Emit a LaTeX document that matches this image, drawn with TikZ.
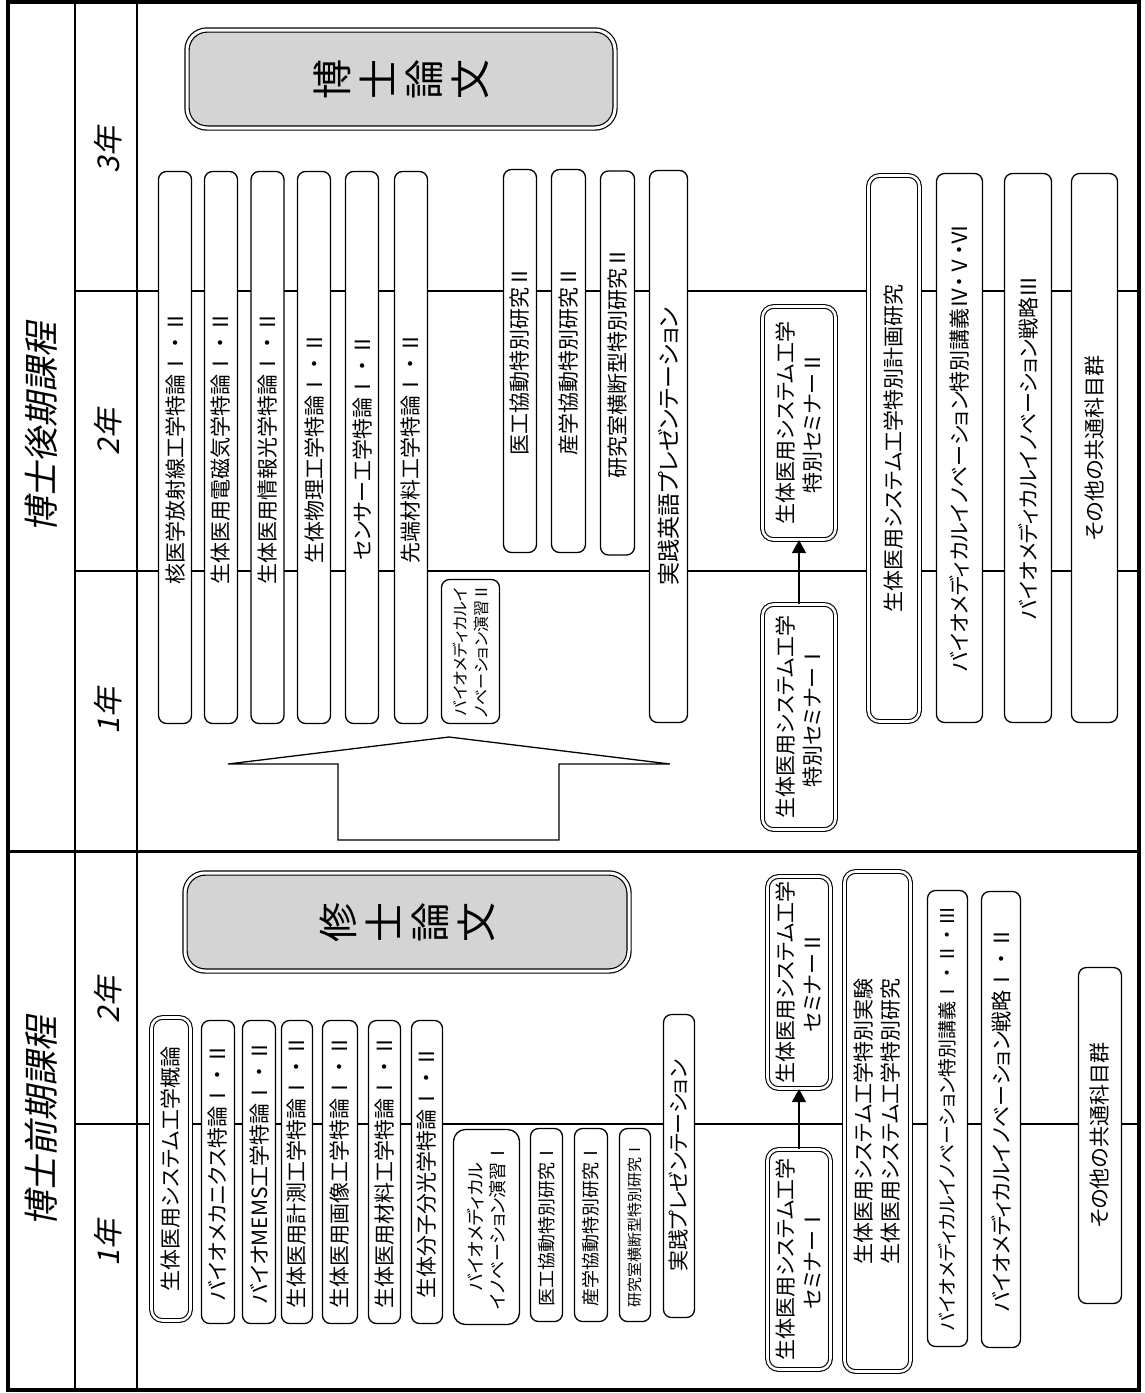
\documentclass[tikz,border=0pt]{standalone}
\usepackage{fontspec}
\setmainfont{Noto Sans CJK JP}[RawFeature=+palt]
\newfontfamily\slantjp{Noto Sans CJK JP}[FakeSlant=0.2]
\newfontfamily\fullwidth{Noto Sans CJK JP}
\newcommand\numw[1]{{\fullwidth #1}}
\usetikzlibrary{arrows.meta}
\definecolor{thesisgray}{RGB}{212,212,212}
\tikzset{
  gridline/.style={line width=1.3pt},
  course/.style={draw, line width=1.3pt, fill=white, rounded corners=8pt,
    rotate=90, inner sep=0pt, align=center,
    font=\fontsize{21}{27}\selectfont},
  core/.style={course, double, line width=1.1pt, double distance=2.6pt,
    rounded corners=11pt},
  thesis/.style={draw, double, line width=1.2pt, double distance=3pt,
    fill=thesisgray, rounded corners=20pt, rotate=90, inner sep=0pt,
    align=center, font=\fontsize{40}{46}\selectfont},
  yearlabel/.style={rotate=90, font=\slantjp\fontsize{30}{30}\selectfont},
  courselabel/.style={rotate=90, font=\slantjp\fontsize{35}{35}\selectfont},
  toplong/.style={minimum width=552pt, minimum height=33pt},
  botlong/.style={minimum width=303pt, minimum height=33pt},
  seminar/.style={-{Triangle[length=13pt,width=14pt]}, line width=1.3pt},
}
\begin{document}
\begin{tikzpicture}[x=1pt,y=-1pt]
\useasboundingbox (0,0) rectangle (1144,1393);
% rows and columns
\draw[gridline] (75,2) -- (75,1390);
\draw[gridline] (137,2) -- (137,1390);
\draw[gridline] (75,291) -- (1139,291);
\draw[gridline] (75,571) -- (1139,571);
\draw[gridline] (75,1124) -- (1139,1124);
\node[courselabel] (doctor) at (41,427) {博士後期課程};
\node[courselabel] (master) at (41,1121) {博士前期課程};
\node[yearlabel] (dthree) at (108,150) {3年};
\node[yearlabel] (dtwo) at (108,432) {2年};
\node[yearlabel] (done) at (108,711) {1年};
\node[yearlabel] (mtwo) at (108,1000) {2年};
\node[yearlabel] (mone) at (108,1243) {1年};
% doctoral course
\node[thesis, minimum width=98pt, minimum height=428pt] (hakuron) at (401,79) {博\\士\\論\\文};
\node[course, toplong] (kaku) at (175,447.5) {核医学放射線工学特論\numw{Ⅰ・Ⅱ}};
\node[course, toplong] (denji) at (221,447.5) {生体医用電磁気学特論\numw{Ⅰ・Ⅱ}};
\node[course, toplong] (joho) at (267.5,447.5) {生体医用情報光学特論\numw{Ⅰ・Ⅱ}};
\node[course, toplong] (butsuri) at (314,447.5) {生体物理工学特論\numw{Ⅰ・Ⅱ}};
\node[course, toplong] (sensor) at (362,447.5) {センサー工学特論\numw{Ⅰ・Ⅱ}};
\node[course, toplong] (sentan) at (411,447.5) {先端材料工学特論\numw{Ⅰ・Ⅱ}};
\node[course, minimum width=144pt, minimum height=58pt,
  font=\fontsize{16}{21}\selectfont] (ensyuB) at (470.5,651.5) {バイオメディカルイ\\ノベーション演習\numw{Ⅱ}};
\node[course, minimum width=383pt, minimum height=33pt] (ikoB) at (520,361) {医工協動特別研究\numw{Ⅱ}};
\node[course, minimum width=383pt, minimum height=34pt] (sangakuB) at (568.5,361) {産学協動特別研究\numw{Ⅱ}};
\node[course, minimum width=384pt, minimum height=34pt] (kenkyuB) at (617.5,363) {研究室横断型特別研究\numw{Ⅱ}};
\node[course, minimum width=552pt, minimum height=38pt,
  font=\fontsize{23}{27}\selectfont] (eigo) at (668.5,446.5) {実践英語プレゼンテーション};
\node[core, minimum width=233pt, minimum height=73pt] (semBtwo) at (799,423) {生体医用システム工学\\特別セミナー\numw{Ⅱ}};
\node[core, minimum width=225pt, minimum height=73pt] (semBone) at (799,717) {生体医用システム工学\\特別セミナー\numw{Ⅰ}};
\node[core, minimum width=546pt, minimum height=51pt] (keikaku) at (894,448.5) {生体医用システム工学特別計画研究};
\node[course, minimum width=549pt, minimum height=46pt] (kogiB) at (959.5,448) {バイオメディカルイノベーション特別講義Ⅳ・Ⅴ・Ⅵ};
\node[course, minimum width=549pt, minimum height=47pt] (senryakuB) at (1028,448) {バイオメディカルイノベーション戦略\numw{Ⅲ}};
\node[course, minimum width=549pt, minimum height=46pt] (sonotaB) at (1094.5,448) {その他の共通科目群};
\draw[seminar] (semBone) -- (semBtwo);
% master course
\node[thesis, minimum width=98pt, minimum height=444pt] (shuron) at (407,922) {修\\士\\論\\文};
\node[core, minimum width=303pt, minimum height=39pt] (gairon) at (171,1169) {生体医用システム工学概論};
\node[course, botlong] (mech) at (218,1172) {バイオメカニクス特論\numw{Ⅰ・Ⅱ}};
\node[course, botlong] (mems) at (259,1172) {バイオMEMS工学特論\numw{Ⅰ・Ⅱ}};
\node[course, botlong, minimum height=31pt] (keisoku) at (297,1172) {生体医用計測工学特論\numw{Ⅰ・Ⅱ}};
\node[course, botlong, minimum height=35pt] (gazo) at (340,1172) {生体医用画像工学特論\numw{Ⅰ・Ⅱ}};
\node[course, botlong, minimum height=32pt] (zairyo) at (384.5,1172) {生体医用材料工学特論\numw{Ⅰ・Ⅱ}};
\node[course, botlong, minimum height=31pt] (bunko) at (427,1172) {生体分子分光学特論\numw{Ⅰ・Ⅱ}};
\node[course, minimum width=195pt, minimum height=66pt, rounded corners=12pt,
  font=\fontsize{18}{22}\selectfont] (ensyuA) at (486.5,1227) {バイオメディカル\\イノベーション演習\numw{Ⅰ}};
\node[course, minimum width=193pt, minimum height=32pt,
  font=\fontsize{18}{22}\selectfont] (ikoA) at (546.5,1225) {医工協動特別研究\numw{Ⅰ}};
\node[course, minimum width=193pt, minimum height=33pt,
  font=\fontsize{18}{22}\selectfont] (sangakuA) at (591,1225) {産学協動特別研究\numw{Ⅰ}};
\node[course, minimum width=193pt, minimum height=31pt,
  font=\fontsize{15}{20}\selectfont] (kenkyuA) at (635,1225) {研究室横断型特別研究\numw{Ⅰ}};
\node[course, minimum width=303pt, minimum height=31pt,
  font=\fontsize{21}{26}\selectfont] (jissen) at (679,1166) {実践プレゼンテーション};
\node[core, minimum width=212pt, minimum height=63pt] (semAtwo) at (799,982.5) {生体医用システム工学\\セミナー\numw{Ⅱ}};
\node[core, minimum width=220pt, minimum height=63pt] (semAone) at (799,1259.5) {生体医用システム工学\\セミナー\numw{Ⅰ}};
\node[core, minimum width=500pt, minimum height=66pt] (tokubetsu) at (877.5,1121.5) {生体医用システム工学特別実験\\生体医用システム工学特別研究};
\node[course, minimum width=456pt, minimum height=40pt,
  font=\fontsize{19}{24}\selectfont] (kogiA) at (947.5,1118.5) {バイオメディカルイノベーション特別講義\numw{Ⅰ・Ⅱ・Ⅲ}};
\node[course, minimum width=456pt, minimum height=39pt] (senryakuA) at (1001,1119.5) {バイオメディカルイノベーション戦略\numw{Ⅰ・Ⅱ}};
\node[course, minimum width=336pt, minimum height=43pt] (sonotaA) at (1100,1135.5) {その他の共通科目群};
\draw[seminar] (semAone) -- (semAtwo);
% step up to the doctoral course
\draw[line width=1.3pt, fill=white]
  (338,840) -- (338,764) -- (228,764) -- (449,737) --
  (670,764) -- (559,764) -- (559,840) -- cycle;
% frame
\draw[line width=3pt] (8,851) -- (1139,851);
\draw[line width=4pt] (8,1.5) rectangle (1139,1389.5);
\end{tikzpicture}
\end{document}
